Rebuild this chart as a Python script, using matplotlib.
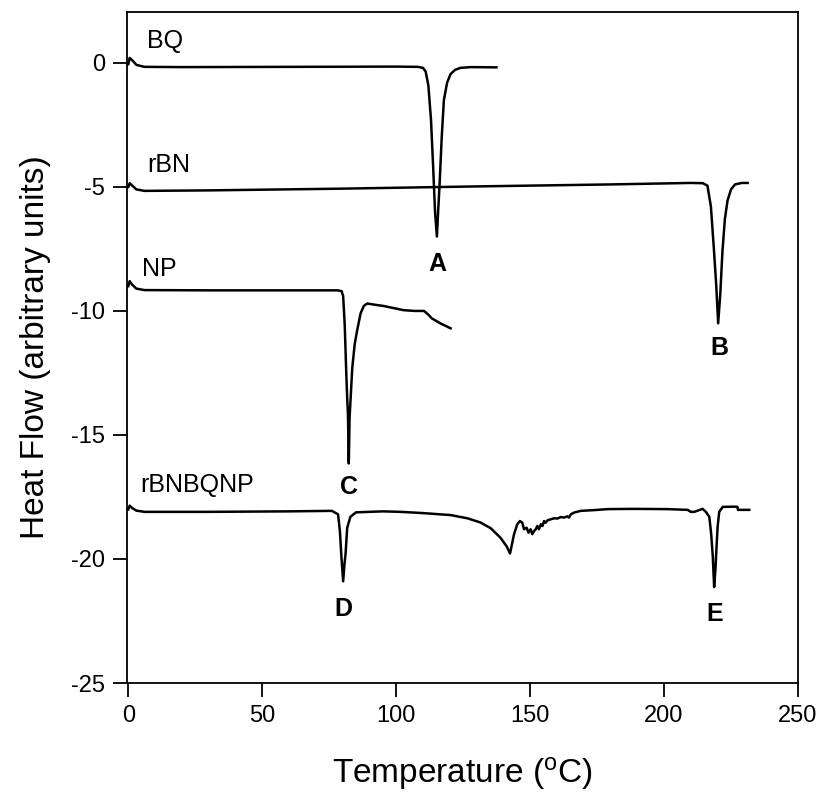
import matplotlib
matplotlib.use("Agg")
import matplotlib.pyplot as plt

plt.rcParams["font.family"] = ["Liberation Sans", "DejaVu Sans"]
plt.rcParams["axes.unicode_minus"] = False

# --- DSC traces ---
bq_temp = [0, 0.5, 1.5, 3, 6, 20, 60, 100, 108, 110, 111, 112, 113, 113.8, 114.5, 115.2,
           115.7, 116.2, 117, 117.8, 119, 120.3, 122, 124, 128, 137.4]
bq_hf = [-0.05, 0.2, 0.1, -0.08, -0.16, -0.17, -0.16, -0.15, -0.16, -0.2, -0.35, -0.9, -2.3,
         -4.2, -6.0, -7.0, -5.9, -4.9, -3.0, -1.5, -0.8, -0.45, -0.28, -0.2, -0.17, -0.18]

rbn_temp = [0, 0.5, 1.5, 3, 6, 30, 80, 130, 180, 210, 214.5, 216.2, 217.5, 218.6, 219.5,
            220.2, 221.0, 221.8, 222.7, 223.7, 225, 226.5, 229, 231.2]
rbn_hf = [-5.0, -4.85, -4.95, -5.1, -5.16, -5.14, -5.07, -4.98, -4.9, -4.84, -4.85, -4.95,
          -5.8, -7.5, -9.0, -10.5, -9.3, -7.6, -6.3, -5.55, -5.1, -4.9, -4.84, -4.84]

np_temp = [0, 0.5, 1.5, 3, 6, 30, 60, 78, 79.6, 80.2, 80.8, 81.3, 81.7, 82.0, 82.3, 82.6,
           83.0, 83.6, 84.5, 85.4, 86.7, 87.9, 89.2, 92, 95.3, 102.8, 107, 110.4, 112,
           113.3, 116.5, 120.3]
np_hf = [-9.0, -8.8, -8.95, -9.1, -9.16, -9.17, -9.17, -9.17, -9.2, -9.4, -10.6, -12.3,
         -13.5, -14.2, -16.15, -14.3, -13.5, -12.3, -11.35, -10.8, -10.1, -9.8, -9.7, -9.75,
         -9.8, -9.97, -10.0, -10.0, -10.15, -10.3, -10.5, -10.7]

mix_temp = [0, 0.5, 1.5, 3, 6, 30, 60, 76, 78.3, 79.0, 79.6, 80.2, 80.7, 81.1, 81.7, 82.9,
            85, 95, 101.6, 110, 120.3, 126.6, 131.5, 135.3, 138.9, 141.3, 142.5, 143.0,
            144.0, 145.2, 146.2, 147.1, 147.7, 148.7, 149.4, 150.2, 150.8, 151.5, 152.1,
            152.7, 153.3, 154.0, 154.6, 155.2, 155.8, 156.5, 157.7, 158.9, 160.2, 161.4,
            162.7, 163.9, 164.5, 165.2, 166.4, 168.9, 173.9, 178.9, 188.8, 201.3, 208.8,
            210.0, 211.3, 213.1, 214.4, 215.6, 216.9, 217.6, 218.2, 218.7, 219.2, 219.6,
            220.0, 220.6, 221.9, 226.2, 227.4, 227.6, 231.8]
mix_hf = [-18.0, -17.85, -17.95, -18.05, -18.1, -18.1, -18.08, -18.06, -18.2, -18.9, -20.0,
          -20.9, -20.2, -19.8, -18.75, -18.3, -18.12, -18.08, -18.1, -18.15, -18.23, -18.36,
          -18.53, -18.76, -19.14, -19.5, -19.78, -19.52, -19.0, -18.6, -18.47, -18.54,
          -18.8, -18.74, -18.94, -18.8, -19.0, -18.87, -18.8, -18.67, -18.8, -18.6, -18.67,
          -18.47, -18.54, -18.44, -18.4, -18.36, -18.37, -18.31, -18.33, -18.28, -18.33,
          -18.2, -18.13, -18.06, -18.03, -17.99, -17.98, -17.99, -18.02, -18.1, -18.1,
          -18.03, -17.98, -18.1, -18.3, -19.0, -19.9, -21.13, -20.4, -19.5, -18.7, -18.1,
          -17.9, -17.89, -17.9, -18.02, -18.02]

series_names = ["BQ", "rBN", "NP", "rBNBQNP"]
series_label_pos = [(7, 0.9), (7, -4.1), (5, -8.3), (4.5, -17.0)]

peak_names = ["A", "B", "C", "D", "E"]
peak_pos = [(115.5, -8.1), (220.5, -11.5), (82.5, -17.1), (80.3, -22.0), (218.8, -22.2)]

fig = plt.figure(figsize=(8.23, 8.08), dpi=100)
ax = fig.add_axes([0.1543, 0.1547, 0.8153, 0.8304])

for t, h in [(bq_temp, bq_hf), (rbn_temp, rbn_hf), (np_temp, np_hf), (mix_temp, mix_hf)]:
    ax.plot(t, h, color="black", lw=1.8)

for name, (x, y) in zip(series_names, series_label_pos):
    ax.text(x, y, name, fontsize=18, ha="left", va="center")

for name, (x, y) in zip(peak_names, peak_pos):
    ax.text(x, y, name, fontsize=18, fontweight="bold", ha="center", va="center")

ax.set_xlim(-0.5, 250)
ax.set_ylim(-25, 2.05)
ax.set_xticks([0, 50, 100, 150, 200, 250])
ax.set_yticks([0, -5, -10, -15, -20, -25])
ax.tick_params(direction="out", length=10, width=1.3, labelsize=17, pad=6)
for s in ax.spines.values():
    s.set_linewidth(1.3)

ax.set_xlabel("Temperature ($\\mathregular{^{o}}$C)", fontsize=24, labelpad=20)
ax.set_ylabel("Heat Flow (arbitrary units)", fontsize=24, labelpad=14)

fig.savefig("out.png", dpi=100)
